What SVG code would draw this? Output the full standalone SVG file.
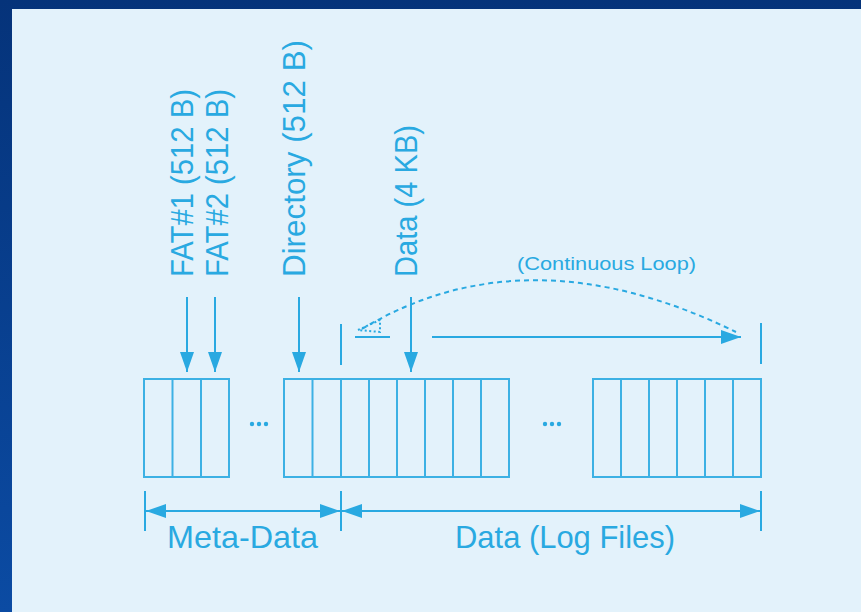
<svg xmlns="http://www.w3.org/2000/svg" width="861" height="612" viewBox="0 0 861 612">
  <defs>
    <linearGradient id="frame" x1="0" y1="0" x2="0" y2="1">
      <stop offset="0" stop-color="#05337a"/>
      <stop offset="1" stop-color="#0b4ba3"/>
    </linearGradient>
    <marker id="head" viewBox="0 0 20 14" refX="20" refY="7" markerWidth="20" markerHeight="14" markerUnits="userSpaceOnUse" orient="auto-start-reverse">
      <path d="M0,0 L20,7 L0,14 Z" fill="#29a9e1"/>
    </marker>
    <style>
      .lbl { font-family: "Liberation Sans", Arial, sans-serif; fill: #29a9e1; }
      .ln { stroke: #29a9e1; stroke-width: 2; fill: none; }
      .cell { stroke: #3cb1e4; stroke-width: 2; fill: none; }
      .dot { fill: #29a9e1; }
    </style>
  </defs>

  <!-- frame and panel -->
  <rect x="0" y="0" width="861" height="612" fill="url(#frame)"/>
  <rect x="12" y="9" width="849" height="603" fill="#e3f2fb"/>

  <!-- block labels (vertical) -->
  <g id="label-fat1">
    <text class="lbl" font-size="32" textLength="188" lengthAdjust="spacingAndGlyphs" transform="translate(193,277) rotate(-90)">FAT#1  (512 B)</text>
  </g>
  <g id="label-fat2">
    <text class="lbl" font-size="32" textLength="188" lengthAdjust="spacingAndGlyphs" transform="translate(228,277) rotate(-90)">FAT#2 (512 B)</text>
  </g>
  <g id="label-directory">
    <text class="lbl" font-size="32" textLength="237" lengthAdjust="spacingAndGlyphs" transform="translate(305,277) rotate(-90)">Directory (512 B)</text>
  </g>
  <g id="label-data">
    <text class="lbl" font-size="32" textLength="152" lengthAdjust="spacingAndGlyphs" transform="translate(417,277) rotate(-90)">Data (4 KB)</text>
  </g>

  <!-- metadata cells -->
  <g id="meta-cells">
    <rect class="cell" x="144" y="379" width="85" height="98"/>
    <line class="cell" x1="172.5" y1="379" x2="172.5" y2="477"/>
    <line class="cell" x1="201" y1="379" x2="201" y2="477"/>
  </g>
  <g id="gap-1">
    <circle class="dot" cx="252" cy="424" r="2.2"/>
    <circle class="dot" cx="259" cy="424" r="2.2"/>
    <circle class="dot" cx="266" cy="424" r="2.2"/>
  </g>
  <g id="dir-data-cells">
    <rect class="cell" x="284" y="379" width="225" height="98"/>
    <line class="cell" x1="312.5" y1="379" x2="312.5" y2="477"/>
    <line class="cell" x1="341" y1="379" x2="341" y2="477"/>
    <line class="cell" x1="369" y1="379" x2="369" y2="477"/>
    <line class="cell" x1="397" y1="379" x2="397" y2="477"/>
    <line class="cell" x1="425" y1="379" x2="425" y2="477"/>
    <line class="cell" x1="453" y1="379" x2="453" y2="477"/>
    <line class="cell" x1="481" y1="379" x2="481" y2="477"/>
  </g>
  <g id="gap-2">
    <circle class="dot" cx="545" cy="424" r="2.2"/>
    <circle class="dot" cx="552" cy="424" r="2.2"/>
    <circle class="dot" cx="559" cy="424" r="2.2"/>
  </g>
  <g id="tail-cells">
    <rect class="cell" x="593" y="379" width="168" height="98"/>
    <line class="cell" x1="621" y1="379" x2="621" y2="477"/>
    <line class="cell" x1="649" y1="379" x2="649" y2="477"/>
    <line class="cell" x1="677" y1="379" x2="677" y2="477"/>
    <line class="cell" x1="705" y1="379" x2="705" y2="477"/>
    <line class="cell" x1="733" y1="379" x2="733" y2="477"/>
  </g>

  <!-- loop caption -->
  <g id="loop-caption">
    <text class="lbl" font-size="19" x="517" y="270" textLength="179" lengthAdjust="spacingAndGlyphs">(Continuous Loop)</text>
  </g>

  <!-- dimension captions -->
  <g id="caption-meta">
    <text class="lbl" font-size="32" x="167" y="548" textLength="151" lengthAdjust="spacingAndGlyphs">Meta-Data</text>
  </g>
  <g id="caption-data">
    <text class="lbl" font-size="32" x="455" y="548" textLength="220" lengthAdjust="spacingAndGlyphs">Data (Log Files)</text>
  </g>

  <!-- connectors -->
  <g id="connectors">
    <!-- pointers into blocks -->
    <line class="ln" x1="187" y1="297" x2="187" y2="372" marker-end="url(#head)"/>
    <line class="ln" x1="215" y1="297" x2="215" y2="372" marker-end="url(#head)"/>
    <line class="ln" x1="299" y1="297" x2="299" y2="372" marker-end="url(#head)"/>
    <line class="ln" x1="411" y1="297" x2="411" y2="372" marker-end="url(#head)"/>

    <!-- write-direction span -->
    <line class="ln" x1="341" y1="324" x2="341" y2="365"/>
    <line class="ln" x1="761" y1="323" x2="761" y2="364"/>
    <line class="ln" x1="355" y1="337" x2="390" y2="337"/>
    <line class="ln" x1="432" y1="337" x2="741" y2="337" marker-end="url(#head)"/>

    <!-- wrap-around loop -->
    <path class="ln" d="M 362 329 Q 527 230 736 332" stroke-width="1.8" stroke-dasharray="5 4"/>
    <path class="ln" d="M 358 330 L 380 320 L 380 332 Z" stroke-width="1.8" stroke-dasharray="2 2.5"/>

    <!-- extent dimensions -->
    <line class="ln" x1="145" y1="491" x2="145" y2="531"/>
    <line class="ln" x1="341" y1="491" x2="341" y2="531"/>
    <line class="ln" x1="761" y1="491" x2="761" y2="531"/>
    <line class="ln" x1="146" y1="511" x2="340" y2="511" marker-start="url(#head)" marker-end="url(#head)"/>
    <line class="ln" x1="342" y1="511" x2="760" y2="511" marker-start="url(#head)" marker-end="url(#head)"/>
  </g>
</svg>
